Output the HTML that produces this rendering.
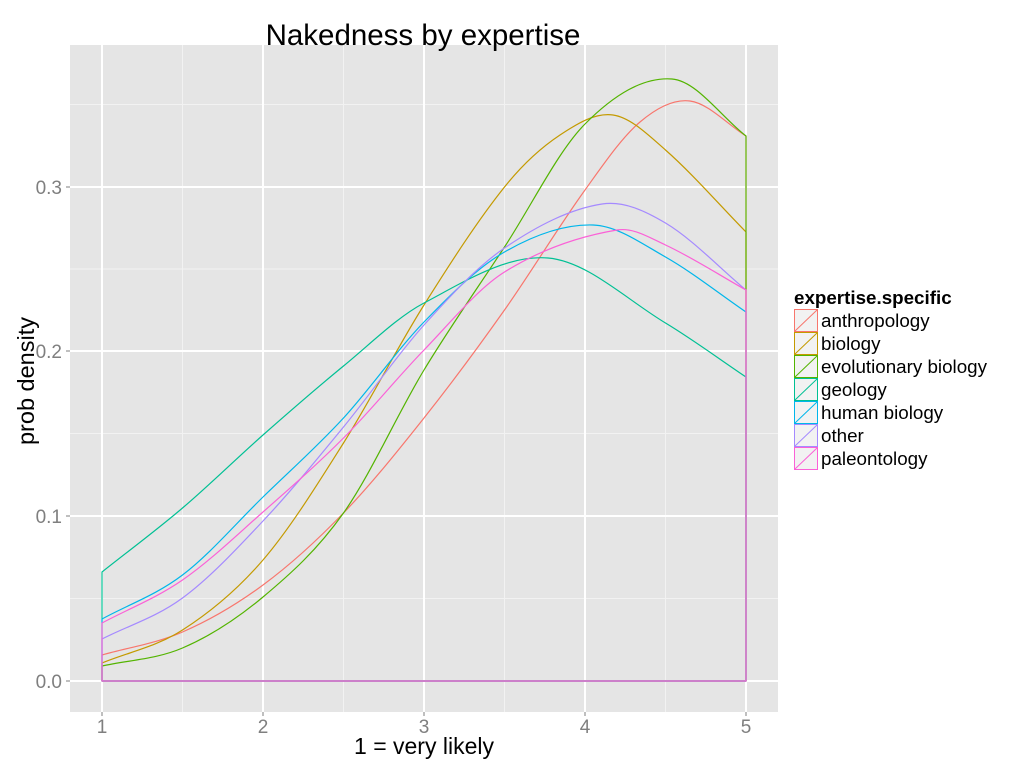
<!DOCTYPE html>
<html><head><meta charset="utf-8"><style>body{margin:0;background:#fff}svg{display:block;font-family:"Liberation Sans",sans-serif}</style></head><body>
<svg id="s" width="1024" height="768" viewBox="0 0 1024 768">
<rect x="70" y="45" width="708" height="667" fill="#E5E5E5"/>
<g stroke="#F2F2F2" stroke-width="1">
<line x1="182.5" y1="45" x2="182.5" y2="712"/><line x1="343.5" y1="45" x2="343.5" y2="712"/><line x1="504.5" y1="45" x2="504.5" y2="712"/><line x1="665.5" y1="45" x2="665.5" y2="712"/>
<line x1="70" y1="598.5" x2="778" y2="598.5"/><line x1="70" y1="433.5" x2="778" y2="433.5"/><line x1="70" y1="269" x2="778" y2="269"/><line x1="70" y1="104.5" x2="778" y2="104.5"/>
</g>
<g stroke="#fff" stroke-width="2">
<line x1="102" y1="45" x2="102" y2="712"/><line x1="263" y1="45" x2="263" y2="712"/><line x1="424" y1="45" x2="424" y2="712"/><line x1="585" y1="45" x2="585" y2="712"/><line x1="746" y1="45" x2="746" y2="712"/>
<line x1="70" y1="681" x2="778" y2="681"/><line x1="70" y1="516" x2="778" y2="516"/><line x1="70" y1="351" x2="778" y2="351"/><line x1="70" y1="187" x2="778" y2="187"/>
</g>
<g id="curves" fill="none" stroke-width="1.2" stroke-linejoin="round"></g>
<g fill="#7F7F7F" font-size="19" text-anchor="end">
<text x="62" y="688">0.0</text><text x="62" y="523">0.1</text><text x="62" y="358">0.2</text><text x="62" y="194">0.3</text>
</g>
<g fill="#7F7F7F" font-size="19" text-anchor="middle">
<text x="102" y="733">1</text><text x="263" y="733">2</text><text x="424" y="733">3</text><text x="585" y="733">4</text><text x="746" y="733">5</text>
</g>
<g stroke="#7F7F7F" stroke-width="1"><line x1="102" y1="712" x2="102" y2="716"/><line x1="263" y1="712" x2="263" y2="716"/><line x1="424" y1="712" x2="424" y2="716"/><line x1="585" y1="712" x2="585" y2="716"/><line x1="746" y1="712" x2="746" y2="716"/>
<line x1="66" y1="681" x2="70" y2="681"/><line x1="66" y1="516" x2="70" y2="516"/><line x1="66" y1="351" x2="70" y2="351"/><line x1="66" y1="187" x2="70" y2="187"/></g>
<text x="424" y="754" font-size="23" text-anchor="middle">1 = very likely</text>
<text x="34" y="381" font-size="23.5" text-anchor="middle" transform="rotate(-90 34 381)">prob density</text>
<text x="423" y="45" font-size="29.5" text-anchor="middle">Nakedness  by expertise</text>
<text x="794" y="304" font-size="18.8" font-weight="bold">expertise.specific</text>
<g font-size="18.8">
<g transform="translate(0,0)"><rect x="794.5" y="309.5" width="23" height="22" fill="#F2F2F2" stroke="#F8766D"/><line x1="795" y1="331" x2="817" y2="310" stroke="#F8766D"/><text x="821" y="327">anthropology</text></g>
<g transform="translate(0,23)"><rect x="794.5" y="309.5" width="23" height="22" fill="#F2F2F2" stroke="#C49A00"/><line x1="795" y1="331" x2="817" y2="310" stroke="#C49A00"/><text x="821" y="327">biology</text></g>
<g transform="translate(0,46)"><rect x="794.5" y="309.5" width="23" height="22" fill="#F2F2F2" stroke="#53B400"/><line x1="795" y1="331" x2="817" y2="310" stroke="#53B400"/><text x="821" y="327">evolutionary biology</text></g>
<g transform="translate(0,69)"><rect x="794.5" y="309.5" width="23" height="22" fill="#F2F2F2" stroke="#00C094"/><line x1="795" y1="331" x2="817" y2="310" stroke="#00C094"/><text x="821" y="327">geology</text></g>
<g transform="translate(0,92)"><rect x="794.5" y="309.5" width="23" height="22" fill="#F2F2F2" stroke="#00B6EB"/><line x1="795" y1="331" x2="817" y2="310" stroke="#00B6EB"/><text x="821" y="327">human biology</text></g>
<g transform="translate(0,115)"><rect x="794.5" y="309.5" width="23" height="22" fill="#F2F2F2" stroke="#A58AFF"/><line x1="795" y1="331" x2="817" y2="310" stroke="#A58AFF"/><text x="821" y="327">other</text></g>
<g transform="translate(0,138)"><rect x="794.5" y="309.5" width="23" height="22" fill="#F2F2F2" stroke="#FB61D7"/><line x1="795" y1="331" x2="817" y2="310" stroke="#FB61D7"/><text x="821" y="327">paleontology</text></g>
</g>
</svg>
<script>
var D=[
["#F8766D",[102,182.5,263,343.5,424,504.5,585,640,690,746],[655,632,585,513,418,310,190,122,101,136]],
["#C49A00",[102,182.5,263,343.5,424,504.5,560,613,665.5,746],[663,630,560,443,305,187,135,115,150,232]],
["#53B400",[102,182.5,263,343.5,424,504.5,585,672,746],[666,648,597,513,370,247,124,79,136]],
["#00C094",[102,182.5,263,343.5,424,548,665.5,746],[572,508,435,366,303,258,323,377]],
["#00B6EB",[102,182.5,263,343.5,424,504.5,593,665.5,746],[619,575,497,418,322,252,225,257,312]],
["#A58AFF",[102,182.5,263,343.5,424,504.5,602,665.5,746],[639,598,521,427,325,248,204,223,290]],
["#FB61D7",[102,182.5,263,343.5,424,504.5,617,665.5,746],[623,580,512,438,350,272,230,245,290]]];
var g=document.getElementById("curves"),ns="http://www.w3.org/2000/svg";
D.forEach(function(c){
 var X=c[1],y=c[2],n=y.length,m=[];
 for(var i=0;i<n;i++){var a=Math.max(0,i-1),b=Math.min(n-1,i+1);m.push((y[b]-y[a])/(X[b]-X[a]));}
 var d="M102,681 L102,"+y[0];
 for(var i=0;i<n-1;i++){var h=X[i+1]-X[i];
  d+=" C"+(X[i]+h/3)+","+(y[i]+m[i]*h/3)+" "+(X[i+1]-h/3)+","+(y[i+1]-m[i+1]*h/3)+" "+X[i+1]+","+y[i+1];}
 d+=" L746,681 Z";
 var p=document.createElementNS(ns,"path");p.setAttribute("d",d);p.setAttribute("stroke",c[0]);g.appendChild(p);
});
</script>
</body></html>
